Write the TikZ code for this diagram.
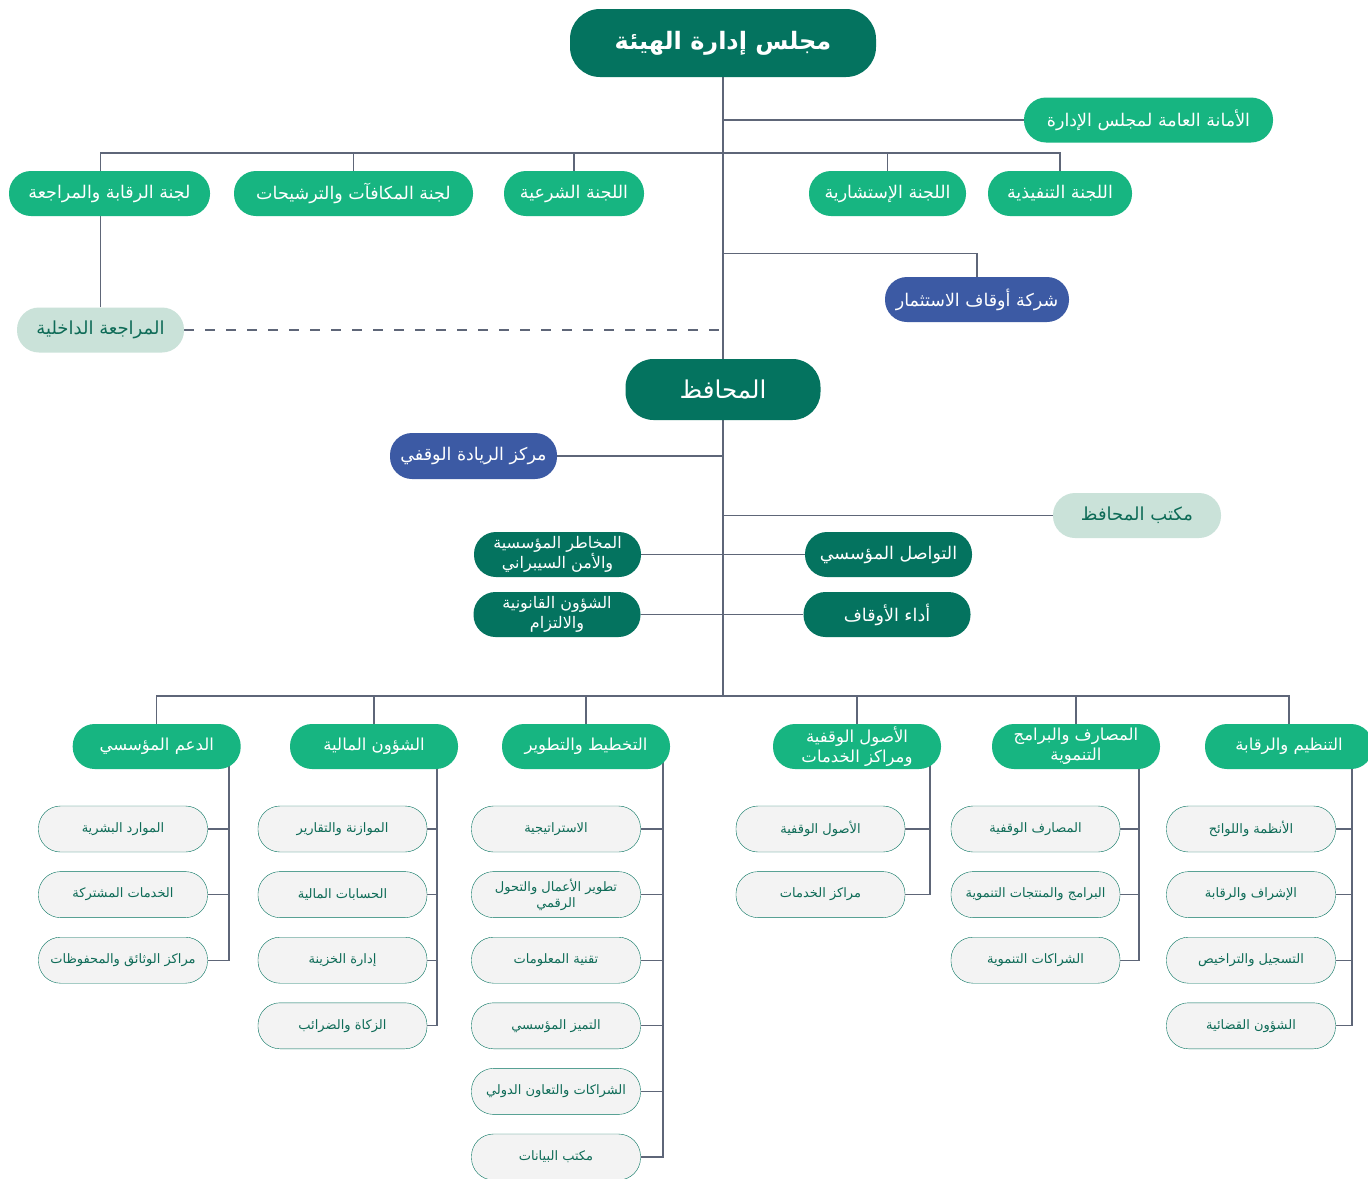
\documentclass[tikz,border=0pt]{standalone}
\usepackage{fontspec}
\newfontfamily\arabicfont[Script=Arabic]{DejaVu Sans}
\TeXXeTstate=1
\usetikzlibrary{backgrounds}
\newcommand{\ar}[1]{\beginR #1\endR}
\definecolor{darkteal}{HTML}{04735F}
\definecolor{brightgreen}{HTML}{17B581}
\definecolor{navyblue}{HTML}{3C5AA4}
\definecolor{mintgreen}{HTML}{CAE2D9}
\definecolor{tealtext}{HTML}{0E6B57}
\definecolor{unitfill}{HTML}{F3F3F3}
\definecolor{linegray}{HTML}{5E6678}
\tikzset{ box/.style = { rectangle % every box
        , rounded corners = 22pt
        , minimum height = 45pt
        , align = center
        , inner sep = 2pt
        }
        , dept_style/.style = { box % department
        , fill = brightgreen
        , text = white
        , minimum width = 168pt
        , font = \arabicfont\fontsize{16.5}{20}\selectfont
        }
        , unit_style/.style = { box % unit under a department
        , draw = darkteal
        , thin
        , fill = unitfill
        , text = tealtext
        , minimum width = 169pt
        , minimum height = 46pt
        , font = \arabicfont\fontsize{13}{16}\selectfont
        }
        }

\begin{document}
\begin{tikzpicture}[x=1pt, y=1pt,
        board_style/.style={box,fill=darkteal,text=white},
        green_style/.style={box,fill=brightgreen,text=white,font=\arabicfont\fontsize{17.5}{21}\selectfont},
        blue_style/.style={box,fill=navyblue,text=white,font=\arabicfont\fontsize{17.5}{21}\selectfont},
        mint_style/.style={box,fill=mintgreen,text=tealtext,font=\arabicfont\fontsize{18}{21}\selectfont},
        dark_style/.style={box,fill=darkteal,text=white,minimum width=167pt,font=\arabicfont\fontsize{17.5}{21}\selectfont},
        edge_style/.style={draw=linegray, line width=1.1pt},
        dashed_edge_style/.style={draw=linegray, line width=1.1pt, dash pattern=on 10pt off 11pt}]
        \useasboundingbox (0,0) rectangle (1368,-1178);

        \node [board_style,minimum width=306,minimum height=68,rounded corners=30,font=\arabicfont\bfseries\fontsize{24}{28}\selectfont](board) at (723,-43) {\ar{مجلس إدارة الهيئة}};
        \node [green_style,minimum width=249](sec) at (1148.5,-120) {\ar{الأمانة العامة لمجلس الإدارة}};
        \node [green_style,minimum width=201](audit) at (109.5,-193.5) {\ar{لجنة الرقابة والمراجعة}};
        \node [green_style,minimum width=239](reward) at (353.5,-193.5) {\ar{لجنة المكافآت والترشيحات}};
        \node [green_style,minimum width=140](sharia) at (574,-193.5) {\ar{اللجنة الشرعية}};
        \node [green_style,minimum width=157](advis) at (887.5,-193.5) {\ar{اللجنة الإستشارية}};
        \node [green_style,minimum width=144](exec) at (1060,-193.5) {\ar{اللجنة التنفيذية}};
        \node [blue_style,minimum width=184](invest) at (977,-299.5) {\ar{شركة أوقاف الاستثمار}};
        \node [mint_style,minimum width=167](intaudit) at (100.5,-330) {\ar{المراجعة الداخلية}};

        \node [board_style,minimum width=195,minimum height=61,rounded corners=28,font=\arabicfont\fontsize{24.5}{28}\selectfont](gov) at (723,-389.5) {\ar{المحافظ}};
        \node [blue_style,minimum width=167,minimum height=46](lead) at (473.5,-456) {\ar{مركز الريادة الوقفي}};
        \node [mint_style,minimum width=168](office) at (1137,-515.5) {\ar{مكتب المحافظ}};
        \node [dark_style,font=\arabicfont\fontsize{16}{20}\selectfont](risk) at (557.5,-554.5) {\ar{المخاطر المؤسسية}\\\ar{والأمن السيبراني}};
        \node [dark_style](comm) at (888.5,-554.5) {\ar{التواصل المؤسسي}};
        \node [dark_style,font=\arabicfont\fontsize{16}{20}\selectfont](legal) at (557,-614.5) {\ar{الشؤون القانونية}\\\ar{والالتزام}};
        \node [dark_style](perf) at (887,-614.5) {\ar{أداء الأوقاف}};

        % departments
        \node [dept_style](d1) at (156.7,-746.5) {\ar{الدعم المؤسسي}};
        \node [dept_style](d2) at (374,-746.5) {\ar{الشؤون المالية}};
        \node [dept_style](d3) at (586,-746.5) {\ar{التخطيط والتطوير}};
        \node [dept_style](d4) at (857,-746.5) {\ar{الأصول الوقفية}\\\ar{ومراكز الخدمات}};
        \node [dept_style](d5) at (1076,-746.5) {\ar{المصارف والبرامج}\\\ar{التنموية}};
        \node [dept_style](d6) at (1289,-746.5) {\ar{التنظيم والرقابة}};

        % units
        \node [unit_style](u11) at (123,-829) {\ar{الموارد البشرية}};
        \node [unit_style](u12) at (123,-894.6) {\ar{الخدمات المشتركة}};
        \node [unit_style](u13) at (123,-960.2) {\ar{مراكز الوثائق والمحفوظات}};
        \node [unit_style](u21) at (342.5,-829) {\ar{الموازنة والتقارير}};
        \node [unit_style](u22) at (342.5,-894.6) {\ar{الحسابات المالية}};
        \node [unit_style](u23) at (342.5,-960.2) {\ar{إدارة الخزينة}};
        \node [unit_style](u24) at (342.5,-1025.8) {\ar{الزكاة والضرائب}};
        \node [unit_style](u31) at (556,-829) {\ar{الاستراتيجية}};
        \node [unit_style](u32) at (556,-894.6) {\ar{تطوير الأعمال والتحول}\\\ar{الرقمي}};
        \node [unit_style](u33) at (556,-960.2) {\ar{تقنية المعلومات}};
        \node [unit_style](u34) at (556,-1025.8) {\ar{التميز المؤسسي}};
        \node [unit_style](u35) at (556,-1091.4) {\ar{الشراكات والتعاون الدولي}};
        \node [unit_style](u36) at (556,-1157) {\ar{مكتب البيانات}};
        \node [unit_style](u41) at (820.5,-829) {\ar{الأصول الوقفية}};
        \node [unit_style](u42) at (820.5,-894.6) {\ar{مراكز الخدمات}};
        \node [unit_style](u51) at (1035.5,-829) {\ar{المصارف الوقفية}};
        \node [unit_style](u52) at (1035.5,-894.6) {\ar{البرامج والمنتجات التنموية}};
        \node [unit_style](u53) at (1035.5,-960.2) {\ar{الشراكات التنموية}};
        \node [unit_style](u61) at (1251,-829) {\ar{الأنظمة واللوائح}};
        \node [unit_style](u62) at (1251,-894.6) {\ar{الإشراف والرقابة}};
        \node [unit_style](u63) at (1251,-960.2) {\ar{التسجيل والتراخيص}};
        \node [unit_style](u64) at (1251,-1025.8) {\ar{الشؤون القضائية}};

        \coordinate (cbar) at (723,-153);
        \coordinate (bbar) at (723,-696);
        \coordinate (r1) at (229,-760);
        \coordinate (r2) at (437,-760);
        \coordinate (r3) at (663,-760);
        \coordinate (r4) at (930,-760);
        \coordinate (r5) at (1139,-760);
        \coordinate (r6) at (1352,-760);

        \begin{pgfonlayer}{background}
        \fill[white] (0,0) rectangle (1368,-1178);
        \draw [edge_style] (board.south) -- (gov.north);
        \draw [edge_style] (sec.west) -- (sec.west -| board.south);
        \draw [edge_style] (intaudit.north) -- (intaudit |- cbar) -- (exec |- cbar) -- (exec.north);
        \draw [edge_style] (reward.north) -- (reward |- cbar);
        \draw [edge_style] (sharia.north) -- (sharia |- cbar);
        \draw [edge_style] (advis.north) -- (advis |- cbar);
        \draw [edge_style] (invest.north) -- ++(0,23) -| (board.south);
        \draw [dashed_edge_style] (intaudit.east) -- (intaudit.east -| gov.north);
        \draw [edge_style] (gov.south) -- (bbar);
        \draw [edge_style] (lead.east) -- (lead.east -| gov.south);
        \draw [edge_style] (office.west) -- (office.west -| gov.south);
        \draw [edge_style] (risk.east) -- (comm.west);
        \draw [edge_style] (legal.east) -- (perf.west);
        \draw [edge_style] (d1.north) -- (d1 |- bbar) -- (d6 |- bbar) -- (d6.north);
        \foreach \d in {d2,d3,d4,d5}
            \draw [edge_style] (\d.north) -- (\d |- bbar);
        % rails and stubs
        \draw [edge_style] (r1) |- (u13.east);
        \draw [edge_style] (r2) |- (u24.east);
        \draw [edge_style] (r3) |- (u36.east);
        \draw [edge_style] (r4) |- (u42.east);
        \draw [edge_style] (r5) |- (u53.east);
        \draw [edge_style] (r6) |- (u64.east);
        \foreach \u/\r in {u11/r1,u12/r1,u21/r2,u22/r2,u23/r2,u31/r3,u32/r3,u33/r3,u34/r3,u35/r3,u41/r4,u51/r5,u52/r5,u61/r6,u62/r6,u63/r6}
            \draw [edge_style] (\u.east) -- (\u.east -| \r);
        \end{pgfonlayer}
\end{tikzpicture}
\end{document}
